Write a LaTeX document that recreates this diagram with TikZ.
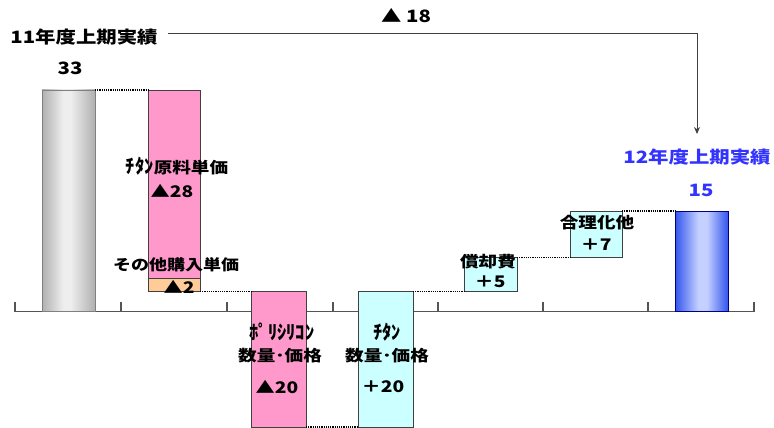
\documentclass[tikz,border=0pt]{standalone}
\usepackage{fontspec}
\setmainfont{Noto Sans CJK JP}
\usetikzlibrary{arrows.meta}
\definecolor{pinkbar}{HTML}{FF99CC}
\definecolor{orangebar}{HTML}{FFCC99}
\definecolor{cyanbar}{HTML}{CCFFFF}
\definecolor{bluetxt}{HTML}{3333FF}
\definecolor{edge}{HTML}{404040}
\definecolor{axisgray}{HTML}{555555}
\definecolor{bluedark}{HTML}{3355EE}
\definecolor{bluelight}{HTML}{C4D0FF}
\definecolor{greydark}{HTML}{B0B0B0}
\definecolor{greylight}{HTML}{EEEEEE}
\pgfdeclarehorizontalshading{greyshade}{100bp}{color(0bp)=(greydark); color(25bp)=(greydark); color(45bp)=(greylight); color(52bp)=(greylight); color(75bp)=(greydark); color(100bp)=(greydark)}
\pgfdeclarehorizontalshading{blueshade}{100bp}{color(0bp)=(bluedark); color(25bp)=(bluedark); color(47bp)=(bluelight); color(55bp)=(bluelight); color(75bp)=(bluedark); color(100bp)=(bluedark)}
\newcommand\jtxt[2]{\fontsize{#1}{#1}\selectfont\bfseries\scalebox{1.2}[1]{#2}}
\newcommand\hk[1]{\scalebox{1}[1.25]{#1}}
\begin{document}
\begin{tikzpicture}[x=1pt,y=-1pt,
  box/.style={draw=edge, line width=0.9pt, inner sep=0pt, outer sep=0pt},
  greybar/.style={box, draw=gray, shading=greyshade},
  bluebarst/.style={box, draw=blue!50!black, shading=blueshade},
  pinkst/.style={box, fill=pinkbar},
  orangest/.style={box, fill=orangebar},
  cyanst/.style={box, fill=cyanbar},
  dotline/.style={black, line width=1.2pt, densely dotted},
  axisline/.style={axisgray, line width=1.2pt},
  topline/.style={edge, line width=0.9pt},
  txt/.style={inner sep=0pt, outer sep=0pt, text=black},
]
\useasboundingbox (0,0) rectangle (774,428);

% axis
\coordinate (ax0) at (15,311.5);
\coordinate (ax1) at (754,311.5);
\draw[axisline] (ax0) -- (ax1);
\foreach \tx [count=\i] in {15,121,227,333,438,543,648,754}{
  \coordinate (tk\i a) at (\tx,311.5);
  \coordinate (tk\i b) at (\tx,302);
  \draw[axisline] (tk\i a) -- (tk\i b);
}

% bars
\node[greybar, minimum width=53pt, minimum height=221.5pt] (b0) at (68.5,200.75) {};
\node[pinkst, minimum width=52pt, minimum height=188pt] (b1) at (174,184) {};
\node[orangest, minimum width=52pt, minimum height=13.5pt] (b2) at (174,284.75) {};
\node[pinkst, minimum width=55pt, minimum height=135.5pt] (b3) at (278.5,359.25) {};
\node[cyanst, minimum width=55pt, minimum height=135.5pt] (b4) at (385.5,359.25) {};
\node[cyanst, minimum width=53pt, minimum height=34pt] (b5) at (490.5,274.5) {};
\node[cyanst, minimum width=52pt, minimum height=46.5pt] (b6) at (596,234.25) {};
\node[bluebarst, minimum width=53pt, minimum height=100.5pt] (b7) at (701.5,261.25) {};

% dotted connectors
\draw[dotline] (b0.north east) -- (b1.north west);
\draw[dotline] (b2.south east) -- (b3.north west);
\draw[dotline] (b3.south east) -- (b4.south west);
\draw[dotline] (b4.north east) -- (b5.south west);
\draw[dotline] (b5.north east) -- (b6.south west);
\draw[dotline] (b6.north east) -- (b7.north west);

% top labels and arrow
\node[txt] (t11) at (84,37) {\jtxt{17}{11年度上期実績}};
\node[txt] (d18) at (406,16) {\jtxt{17}{▲ 18}};
\node[txt, text=bluetxt] (t12) at (697,157) {\jtxt{17}{12年度上期実績}};
\node[txt] (v33) at (70,68) {\jtxt{17}{33}};
\node[txt, text=bluetxt] (v15) at (701,190) {\jtxt{17}{15}};
\coordinate (ls) at (168,33);
\coordinate (le) at (697,134);
\draw[topline, -{Stealth[length=7pt,width=6pt]}] (ls) -| (le);

% step labels
\node[txt] (l1a) at (177,166) {\jtxt{15.5}{\hk{ﾁﾀﾝ}原料単価}};
\node[txt] (l1b) at (172,191) {\jtxt{16}{▲28}};
\node[txt] (l2a) at (176,265) {\jtxt{15}{その他購入単価}};
\node[txt] (l2b) at (179,287) {\jtxt{16}{▲2}};
\node[txt] (l3a) at (282,332) {\jtxt{15.5}{\hk{ﾎﾟﾘｼﾘｺﾝ}}};
\node[txt] (l3b) at (280,356) {\jtxt{15.5}{数量･価格}};
\node[txt] (l3c) at (277,387) {\jtxt{16}{▲20}};
\node[txt] (l4a) at (387,332) {\jtxt{15.5}{\hk{ﾁﾀﾝ}}};
\node[txt] (l4b) at (387,356) {\jtxt{15.5}{数量･価格}};
\node[txt] (l4c) at (383,387) {\jtxt{16}{＋20}};
\node[txt] (l5a) at (488,262) {\jtxt{15.5}{償却費}};
\node[txt] (l5b) at (490,282) {\jtxt{16}{＋5}};
\node[txt] (l6a) at (597,223) {\jtxt{15.5}{合理化他}};
\node[txt] (l6b) at (596,245) {\jtxt{16}{＋7}};
\end{tikzpicture}
\end{document}
